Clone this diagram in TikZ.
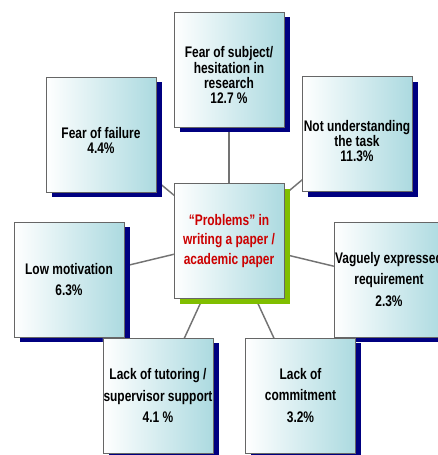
\documentclass[tikz,border=0pt]{standalone}
\usepackage{fontspec}
\setmainfont{Liberation Sans}[FakeStretch=0.78]
\usetikzlibrary{shadows,backgrounds}

\definecolor{boxteal}{RGB}{172,218,224}
\definecolor{navyshade}{RGB}{0,0,128}
\definecolor{limeshade}{RGB}{128,190,0}
\definecolor{probred}{RGB}{204,0,0}

\begin{document}
\begin{tikzpicture}[x=0.75pt, y=-0.75pt,
				every node/.style={ rectangle, draw=black!60, line width=0.6pt,
						left color=white, right color=boxteal,
						minimum width=82.5pt, minimum height=86.25pt,
						inner sep=0pt, align=center, text=black,
						font=\bfseries\fontsize{11.5}{11.5}\selectfont },
				cause/.style={ drop shadow={shadow xshift=4.5pt, shadow yshift=-3.75pt,
						fill=navyshade, opacity=1, draw=none} },
				widecause/.style={ cause,
						font=\bfseries\fontsize{11.5}{16}\selectfont },
				link/.style={ draw=black!55, line width=1.1pt } ]

			\path[use as bounding box, clip] (0,0) rectangle (438,455);

			\node[cause] (subject) at (229,69.5)
			{\rule{0pt}{17pt}Fear of subject/\\hesitation in\\research\\12.7 \%};
			\node[cause] (failure) at (101,134.5)
			{\rule{0pt}{17pt}Fear of failure\\4.4\%};
			\node[cause] (task) at (357,134)
			{\rule{0pt}{19pt}Not understanding\\the task\\11.3\%};
			\node[drop shadow={shadow xshift=4.5pt, shadow yshift=-3.75pt,
					fill=limeshade, opacity=1, draw=none},
				text=probred, font=\bfseries\fontsize{11.5}{14.6}\selectfont]
			(problems) at (229,241)
			{“Problems” in\\writing a paper /\\academic paper};
			\node[widecause] (motivation) at (69,279.5) {Low motivation\\6.3\%};
			\node[widecause] (requirement) at (389,279.5)
			{Vaguely expressed\\requirement\\2.3\%};
			\node[widecause] (tutoring) at (158,395.5)
			{Lack of tutoring /\\supervisor support\\4.1 \%};
			\node[widecause] (commitment) at (300.5,395.5)
			{Lack of\\commitment\\3.2\%};

			\begin{scope}[on background layer]
				\draw[link] (problems.center) -- (subject.center);
				\draw[link] (problems.center) -- (failure.center);
				\draw[link] (problems.center) -- (task.center);
				\draw[link] (problems.center) -- (motivation.center);
				\draw[link] (problems.center) -- (requirement.center);
				\draw[link] (problems.center) -- (tutoring.center);
				\draw[link] (problems.center) -- (commitment.center);
			\end{scope}
		\end{tikzpicture}
\end{document}
